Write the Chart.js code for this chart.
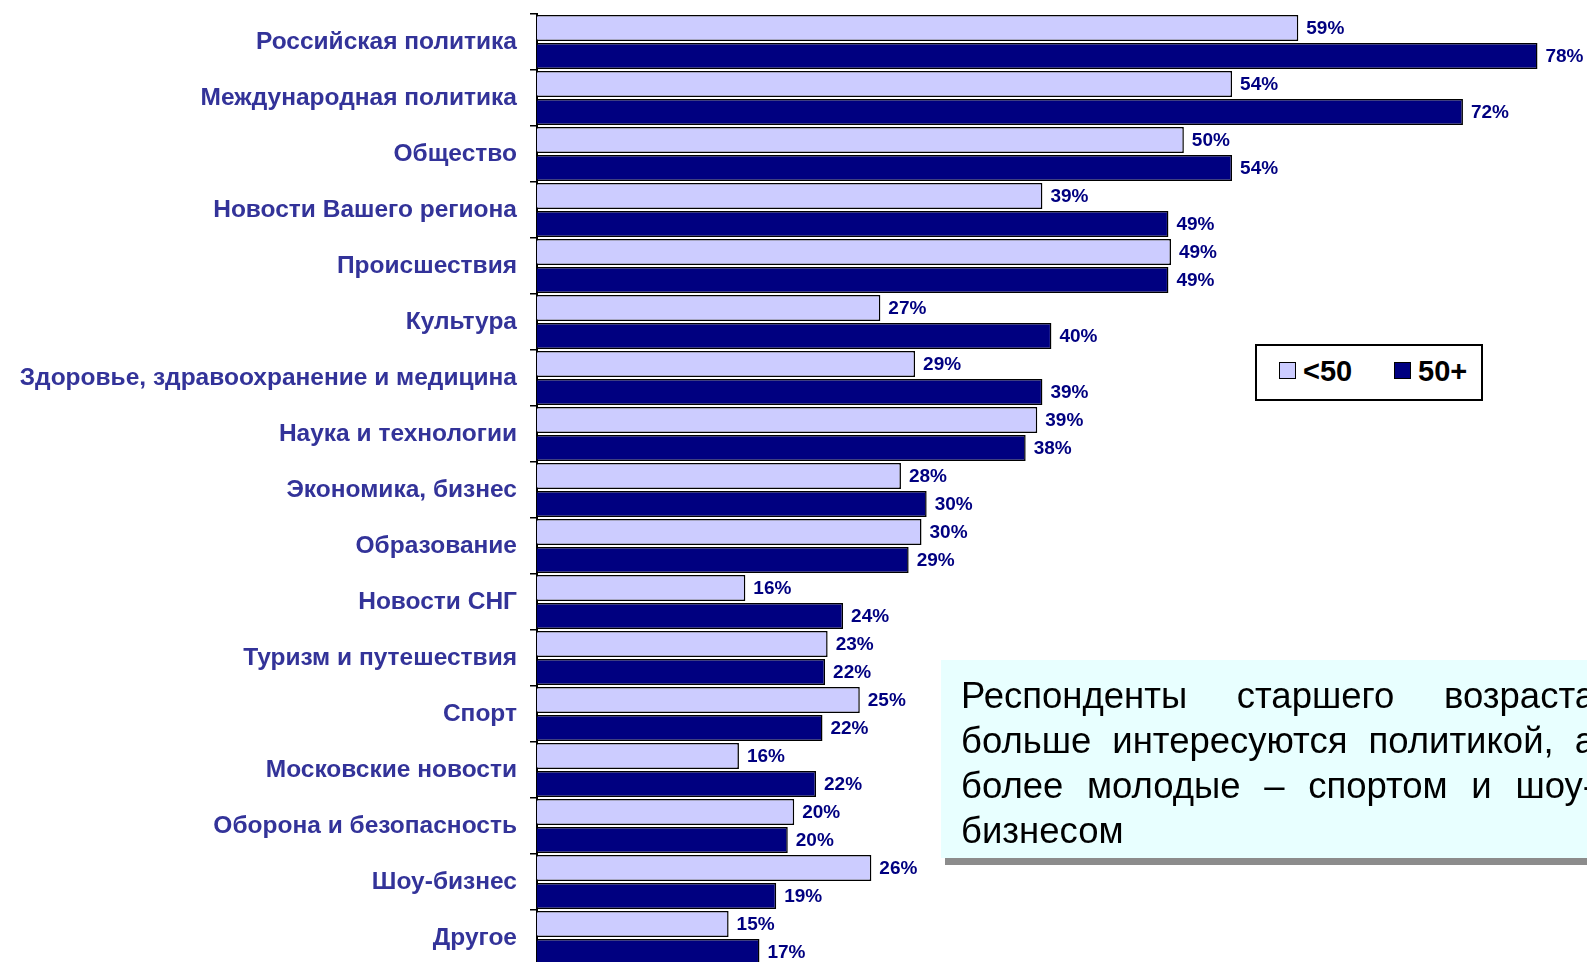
<!DOCTYPE html>
<html>
<head>
<meta charset="utf-8">
<script src="https://cdn.jsdelivr.net/npm/chart.js@4"></script>
<style>
    html, body { margin: 0; padding: 0; background: #fff; overflow: hidden; width: 1587px; height: 962px; }
    #wrap { position: absolute; left: 0; top: 0; width: 1587px; height: 966px; }
    .legend {
        position: absolute; left: 1255px; top: 344px; width: 224px; height: 53px;
        border: 2px solid #000; background: #fff;
        font-family: "Liberation Sans", Arial, sans-serif; font-weight: bold; font-size: 29px; color: #000;
    }
    .legend .item { position: absolute; top: 10px; line-height: 30px; }
    .legend .sw { display: inline-block; width: 15px; height: 15px; border: 1.5px solid #000; margin-right: 7px; vertical-align: 2px; }
    .note {
        position: absolute; left: 941px; top: 660px; width: 700px; height: 198px;
        background: #e8ffff; box-shadow: 4px 7px 0 #8c8c8c;
        font-family: "Liberation Sans", Arial, sans-serif; font-size: 36.5px; color: #000;
    }
    .note .line { position: absolute; left: 20px; width: 634px; display: flex; justify-content: space-between; line-height: 42px; }
</style>
</head>
<body>
<div id="wrap"><canvas id="chart" width="1587" height="966"></canvas></div>

<div class="legend">
    <div class="item" style="left:22px"><span class="sw" style="background:#ccccff"></span>&lt;50</div>
    <div class="item" style="left:137px"><span class="sw" style="background:#000080"></span>50+</div>
</div>

<div class="note">
    <div class="line" style="top:15px"><span>Респонденты</span><span>старшего</span><span>возраста</span></div>
    <div class="line" style="top:60px"><span>больше</span><span>интересуются</span><span>политикой,</span><span>а</span></div>
    <div class="line" style="top:105px"><span>более</span><span>молодые</span><span>–</span><span>спортом</span><span>и</span><span>шоу-</span></div>
    <div class="line" style="top:150px; justify-content:flex-start"><span>бизнесом</span></div>
</div>

<script>
const categories = [
    'Российская политика',
    'Международная политика',
    'Общество',
    'Новости Вашего региона',
    'Происшествия',
    'Культура',
    'Здоровье, здравоохранение и медицина',
    'Наука и технологии',
    'Экономика, бизнес',
    'Образование',
    'Новости СНГ',
    'Туризм и путешествия',
    'Спорт',
    'Московские новости',
    'Оборона и безопасность',
    'Шоу-бизнес',
    'Другое'
];
const under50 = [59.2, 54.05, 50.3, 39.3, 49.3, 26.7, 29.4, 38.9, 28.3, 29.9, 16.2, 22.6, 25.1, 15.7, 20.0, 26.0, 14.9];
const over50 = [77.8, 72.0, 54.05, 49.1, 49.1, 40.0, 39.3, 38.0, 30.3, 28.9, 23.8, 22.4, 22.2, 21.7, 19.5, 18.6, 17.3];
const seriesNames = ['<50', '50+'];

// value labels to the right of each bar
const valueLabels = {
    id: 'valueLabels',
    afterDatasetsDraw(chart) {
        const ctx = chart.ctx;
        ctx.save();
        ctx.font = 'bold 19px "Liberation Sans", Arial, sans-serif';
        ctx.fillStyle = '#000080';
        ctx.textAlign = 'left';
        ctx.textBaseline = 'middle';
        chart.data.datasets.forEach((ds, i) => {
            chart.getDatasetMeta(i).data.forEach((bar, j) => {
                ctx.fillText(Math.round(ds.data[j]) + '%', bar.x + 8, bar.y + 1);
            });
        });
        ctx.restore();
    }
};

new Chart(document.getElementById('chart'), {
    type: 'bar',
    data: {
        labels: categories,
        datasets: [{
            label: seriesNames[0],
            data: under50,
            backgroundColor: '#ccccff',
            borderColor: '#000',
            borderWidth: 1.5
        }, {
            label: seriesNames[1],
            data: over50,
            backgroundColor: '#000080',
            borderColor: '#000',
            borderWidth: 1.5
        }]
    },
    options: {
        indexAxis: 'y',
        responsive: false,
        animation: false,
        layout: { padding: { top: 14, right: 0, bottom: 0, left: 0 } },
        datasets: {
            bar: { categoryPercentage: 1, barPercentage: 0.93 }
        },
        scales: {
            x: {
                display: false,
                min: 0,
                max: 81.65
            },
            y: {
                afterFit(scale) {
                    scale.width = 537;
                    scale.paddingTop = 0;
                    scale.paddingBottom = 0;
                },
                grid: {
                    offset: true,
                    drawOnChartArea: false,
                    drawTicks: true,
                    tickLength: 7,
                    color: '#000',
                    lineWidth: 1.5
                },
                border: { display: true, color: '#000', width: 2 },
                ticks: {
                    padding: 13,
                    color: '#333399',
                    font: { family: '"Liberation Sans", Arial, sans-serif', size: 24.5, weight: 'bold' }
                }
            }
        },
        plugins: {
            legend: { display: false },
            tooltip: { enabled: false }
        }
    },
    plugins: [valueLabels]
});
</script>
</body>
</html>
